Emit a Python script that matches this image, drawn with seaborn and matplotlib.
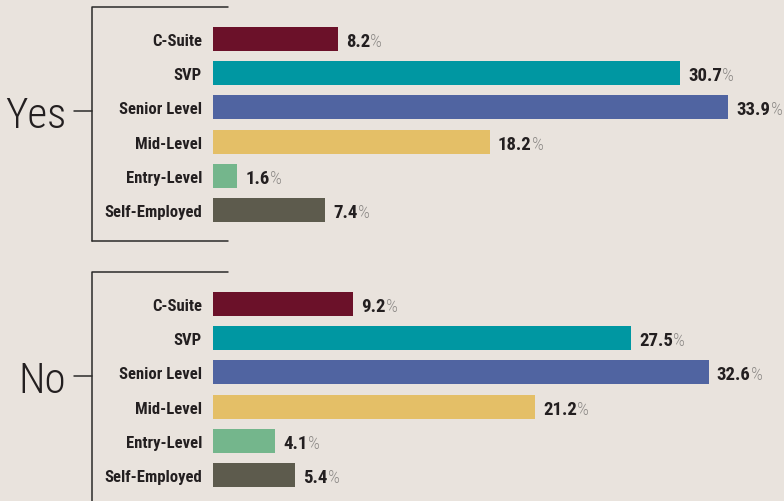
import pandas as pd
import seaborn as sns
import matplotlib.pyplot as plt
from matplotlib.lines import Line2D

# data
levels = ["C-Suite", "SVP", "Senior Level", "Mid-Level", "Entry-Level", "Self-Employed"]
yes_pct = [8.2, 30.7, 33.9, 18.2, 1.6, 7.4]
no_pct = [9.2, 27.5, 32.6, 21.2, 4.1, 5.4]
groups = ["Yes", "No"]
level_colors = ["#6b1129", "#0097a2", "#5064a1", "#e4bf67", "#74b68c", "#5d5b4d"]

W, H = 784, 502
BG = "#e9e3dd"
INK = "#231f20"
PCT_GREY = "#8e8b88"
NARROW = ["Roboto Condensed", "Asap Condensed", "Liberation Sans Narrow", "DejaVu Sans"]
PX_PER_PCT = 15.2
BAR_LEFT = 213

sns.set_theme(style="white")
plt.rcParams["font.family"] = NARROW


def px_box(left, top, right, bottom):
    return [left / W, 1 - bottom / H, (right - left) / W, (bottom - top) / H]


def fig_line(xs, ys):
    fig.add_artist(Line2D([x / W for x in xs], [1 - y / H for y in ys],
                          transform=fig.transFigure, color="#2b2a29", lw=1.1))


fig = plt.figure(figsize=(W / 100, H / 100), dpi=100, facecolor=BG)

# (values, axes top px, axes bottom px, bracket top, bracket bottom, tick y)
panels = [
    (yes_pct, 23, 228, 8, 242, 112),
    (no_pct, 288, 493, 273, 510, 377),
]

for name, (vals, top, bottom, br_top, br_bot, tick_y) in zip(groups, panels):
    ax = fig.add_axes(px_box(BAR_LEFT, top, W, bottom))
    df = pd.DataFrame({"level": levels, "pct": vals})
    sns.barplot(data=df, x="pct", y="level", hue="level", order=levels,
                hue_order=levels, palette=level_colors, width=0.7,
                saturation=1, legend=False, linewidth=0, ax=ax)
    ax.set_xlim(0, (W - BAR_LEFT) / PX_PER_PCT)
    ax.set_ylim(5.5, -0.5)
    ax.set_facecolor("none")
    ax.set_xlabel("")
    ax.set_ylabel("")
    ax.set_xticks([])
    sns.despine(ax=ax, left=True, bottom=True)
    ax.tick_params(axis="y", length=0, pad=8)
    for lab in ax.get_yticklabels():
        lab.set_fontsize(12)
        lab.set_fontweight("bold")
        lab.set_color(INK)

    for i, v in enumerate(vals):
        t = ax.annotate(f"{v:.1f}", xy=(v, i), xytext=(6, 0),
                        textcoords="offset points", ha="left",
                        va="center_baseline", fontsize=13.5,
                        fontweight="bold", color=INK)
        ax.annotate("%", xy=(1, 0), xycoords=t, ha="left", va="bottom",
                    fontsize=13.5, fontweight="light", color=PCT_GREY)

    # bracket
    fig_line([228, 92, 92], [br_top, br_top, br_bot])
    if br_bot < H:
        fig_line([92, 228], [br_bot, br_bot])
    fig_line([74, 92], [tick_y, tick_y])
    fig.text(66 / W, 1 - tick_y / H, name, ha="right", va="center_baseline",
             fontsize=31, fontweight="light", color=INK)

fig.savefig("out.png", dpi=100, facecolor=BG)
